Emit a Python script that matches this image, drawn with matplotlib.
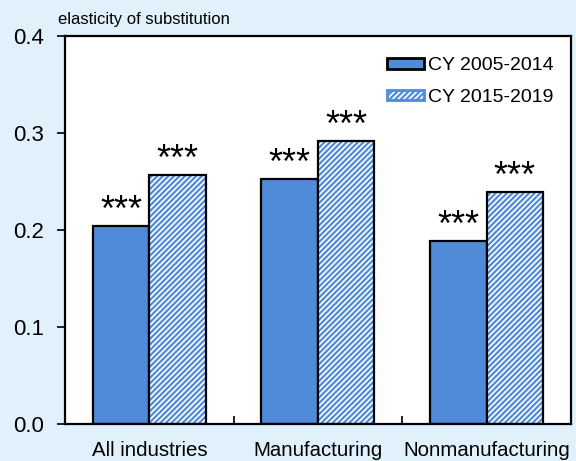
import numpy as np
import matplotlib
matplotlib.use("Agg")
import matplotlib.pyplot as plt
from matplotlib.patches import Patch

categories = ["All industries", "Manufacturing", "Nonmanufacturing"]
cy_2005_2014 = [0.204, 0.253, 0.189]
cy_2015_2019 = [0.257, 0.292, 0.239]
yticks = [0.0, 0.1, 0.2, 0.3, 0.4]

bg = "#E0F1FC"
blue = "#4F8BD9"

plt.rcParams['font.family'] = ['Liberation Sans', 'DejaVu Sans']
plt.rcParams['hatch.linewidth'] = 1.6

fig = plt.figure(figsize=(5.76, 4.61), dpi=100, facecolor=bg)
ax = fig.add_axes([0.113, 0.080, 0.878, 0.842])

x = np.arange(len(categories))
w = 0.335
ax.bar(x - w / 2, cy_2005_2014, w, color=blue, edgecolor="black", linewidth=1.6)
# hatched bars: hatch drawn in blue first, black outline on top
ax.bar(x + w / 2, cy_2015_2019, w, color="white", edgecolor=blue, hatch="//////", linewidth=0)
ax.bar(x + w / 2, cy_2015_2019, w, fill=False, edgecolor="black", linewidth=1.6)

for xi, v in zip(x, cy_2005_2014):
    ax.text(xi - w / 2, v + 0.005, "***", ha="center", va="baseline", fontsize=26)
for xi, v in zip(x, cy_2015_2019):
    ax.text(xi + w / 2, v + 0.005, "***", ha="center", va="baseline", fontsize=26)

ax.set_xlim(-0.5, 2.5)
ax.set_ylim(0, 0.4)
ax.set_yticks(yticks)
ax.set_yticklabels([f"{t:.1f}" for t in yticks], fontsize=16)
ax.tick_params(axis="y", direction="out", length=6, width=1.2, pad=9)
ax.set_xticks([0.5, 1.5])
ax.set_xticklabels([])
ax.tick_params(axis="x", direction="in", length=6, width=1.2)
for i, c in enumerate(categories):
    ax.text(i, -0.017, c, ha="center", va="top", fontsize=14.7)
for s in ax.spines.values():
    s.set_linewidth(1.6)

handles = [Patch(facecolor=blue, edgecolor="black", linewidth=2),
           Patch(facecolor="white", edgecolor="black", hatch="//////", linewidth=2)]
leg = ax.legend(handles, ["CY 2005-2014", "CY 2015-2019"], loc="upper right",
                frameon=False, fontsize=14, handlelength=1.9, handleheight=0.45,
                handletextpad=0.2, labelspacing=0.75, bbox_to_anchor=(1.0, 0.99))
# hatch colour of the second legend patch
leg.legend_handles[1].set_edgecolor(blue)

fig.text(0.101, 0.958, "elasticity of substitution", fontsize=12, va="center")

fig.savefig("out.png", dpi=100, facecolor=bg)
